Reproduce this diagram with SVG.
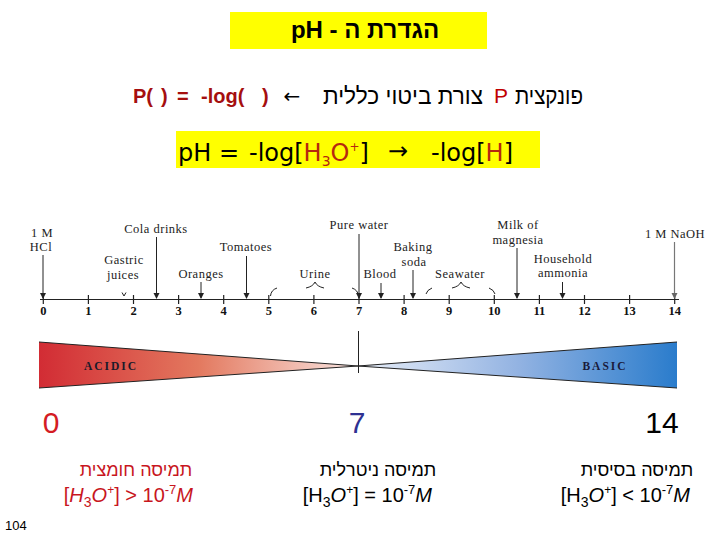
<svg xmlns="http://www.w3.org/2000/svg" width="720" height="540" viewBox="0 0 720 540">
<defs>
<marker id="ah" markerWidth="6" markerHeight="7" refX="5" refY="3" orient="auto" markerUnits="userSpaceOnUse">
<path d="M0,0 L6,3 L0,6 z" fill="#222"/>
</marker>
<marker id="ahg" markerWidth="6" markerHeight="7" refX="5" refY="3" orient="auto" markerUnits="userSpaceOnUse">
<path d="M0,0 L6,3 L0,6 z" fill="#666"/>
</marker>
<linearGradient id="gAcid" x1="39" y1="0" x2="358" y2="0" gradientUnits="userSpaceOnUse">
<stop offset="0" stop-color="#d22c34"/>
<stop offset="0.5" stop-color="#e3795f"/>
<stop offset="1" stop-color="#f9e6e2"/>
</linearGradient>
<linearGradient id="gBase" x1="358" y1="0" x2="677" y2="0" gradientUnits="userSpaceOnUse">
<stop offset="0" stop-color="#e8eef8"/>
<stop offset="0.5" stop-color="#93b3e2"/>
<stop offset="1" stop-color="#2a7ccc"/>
</linearGradient>
</defs>
<style>
.lbl{font-family:"Liberation Serif",serif;font-size:12.5px;fill:#222;text-anchor:middle;letter-spacing:0.5px}
.num{font-family:"Liberation Serif",serif;font-size:12.5px;font-weight:bold;fill:#111;text-anchor:middle}
.arr{stroke:#222;stroke-width:1;fill:none}
.heb{font-family:"Liberation Sans",sans-serif;direction:rtl;unicode-bidi:embed}
.big{font-family:"Liberation Sans",sans-serif;font-size:30px;text-anchor:middle}
.expr{font-family:"Liberation Sans",sans-serif;font-size:20px;text-anchor:end}
.eq{font-family:"DejaVu Sans",sans-serif;font-size:24px;fill:#000}
.red{fill:#b5280f}
.brace{stroke:#222;stroke-width:1;fill:none}
</style>
<rect width="720" height="540" fill="#fff"/>

<g id="title">
<rect x="230" y="12" width="257" height="37" fill="#ffff00"/>
<text class="heb" x="365" y="38" font-size="24" font-weight="bold" text-anchor="middle" fill="#000">הגדרת ה - pH</text>
</g>

<g id="general-form">
<g font-family="Liberation Sans, sans-serif" font-size="20" font-weight="bold" fill="#a50f0f">
<text x="133" y="103">P(</text>
<text x="161" y="103">)</text>
<text x="177" y="103">=</text>
<text x="201" y="103">-log(</text>
<text x="262" y="103">)</text>
</g>
<text x="292" y="103" font-family="DejaVu Sans, sans-serif" font-size="20" text-anchor="middle" fill="#000">←</text>
<text class="heb" x="483" y="104" font-size="23" text-anchor="start" textLength="160" lengthAdjust="spacingAndGlyphs" fill="#000">צורת ביטוי כללית</text>
<text x="501" y="103" font-family="Liberation Sans, sans-serif" font-size="21" text-anchor="middle" fill="#c00000">P</text>
<text class="heb" x="583" y="104" font-size="23" text-anchor="start" textLength="68" lengthAdjust="spacingAndGlyphs" fill="#000">פונקצית</text>
</g>

<g id="ph-definition">
<rect x="176" y="131" width="364" height="37" fill="#ffff00"/>
<text class="eq" x="178" y="161" fill="#e35a12">pH</text>
<text class="eq" x="229" y="161" font-size="20" text-anchor="middle">=</text>
<text class="eq" x="249" y="161">-log[<tspan class="red">H</tspan><tspan class="red" font-size="14" dy="5">3</tspan><tspan class="red" dy="-5">O</tspan><tspan class="red" font-size="12" dy="-10">+</tspan><tspan dy="10">]</tspan></text>
<text class="eq" x="398" y="159" text-anchor="middle">→</text>
<text class="eq" x="431" y="161">-log[<tspan class="red">H</tspan>]</text>
</g>

<g id="scale">
<line x1="40" y1="299.5" x2="679" y2="299.5" stroke="#222" stroke-width="1"/>
<g stroke="#222" stroke-width="1.2">
<line x1="43.3" y1="295" x2="43.3" y2="304"/>
<line x1="88.4" y1="295" x2="88.4" y2="304"/>
<line x1="133.5" y1="295" x2="133.5" y2="304"/>
<line x1="178.6" y1="295" x2="178.6" y2="304"/>
<line x1="223.7" y1="295" x2="223.7" y2="304"/>
<line x1="268.8" y1="295" x2="268.8" y2="304"/>
<line x1="313.9" y1="295" x2="313.9" y2="304"/>
<line x1="359" y1="295" x2="359" y2="304"/>
<line x1="404.1" y1="295" x2="404.1" y2="304"/>
<line x1="449.2" y1="295" x2="449.2" y2="304"/>
<line x1="494.3" y1="295" x2="494.3" y2="304"/>
<line x1="539.4" y1="295" x2="539.4" y2="304"/>
<line x1="584.5" y1="295" x2="584.5" y2="304"/>
<line x1="629.6" y1="295" x2="629.6" y2="304"/>
<line x1="674.7" y1="295" x2="674.7" y2="304"/>
</g>
<text class="num" x="43.3" y="315">0</text>
<text class="num" x="88.4" y="315">1</text>
<text class="num" x="133.5" y="315">2</text>
<text class="num" x="178.6" y="315">3</text>
<text class="num" x="223.7" y="315">4</text>
<text class="num" x="268.8" y="315">5</text>
<text class="num" x="313.9" y="315">6</text>
<text class="num" x="359" y="315">7</text>
<text class="num" x="404.1" y="315">8</text>
<text class="num" x="449.2" y="315">9</text>
<text class="num" x="494.3" y="315">10</text>
<text class="num" x="539.4" y="315">11</text>
<text class="num" x="584.5" y="315">12</text>
<text class="num" x="629.6" y="315">13</text>
<text class="num" x="674.7" y="315">14</text>
</g>

<g id="hcl"><text class="lbl" x="42" y="237">1 M</text><text class="lbl" x="41" y="251">HCl</text></g>
<g id="cola"><text class="lbl" x="156" y="233">Cola drinks</text></g>
<g id="gastric"><text class="lbl" x="124" y="264">Gastric</text><text class="lbl" x="123" y="278.5">juices</text></g>
<g id="tomatoes"><text class="lbl" x="246" y="251">Tomatoes</text></g>
<g id="oranges"><text class="lbl" x="201" y="278">Oranges</text></g>
<g id="urine"><text class="lbl" x="315" y="278">Urine</text></g>
<g id="pure-water"><text class="lbl" x="359" y="229">Pure water</text></g>
<g id="blood"><text class="lbl" x="380" y="278">Blood</text></g>
<g id="baking-soda"><text class="lbl" x="413" y="251">Baking</text><text class="lbl" x="414" y="265.5">soda</text></g>
<g id="seawater"><text class="lbl" x="460" y="278">Seawater</text></g>
<g id="milk-of-magnesia"><text class="lbl" x="518" y="229">Milk of</text><text class="lbl" x="518" y="243.5">magnesia</text></g>
<g id="ammonia"><text class="lbl" x="563" y="262.5">Household</text><text class="lbl" x="563" y="277">ammonia</text></g>
<g id="naoh"><text class="lbl" x="675" y="238">1 M NaOH</text></g>

<g id="connectors">
<line class="arr" x1="43" y1="255" x2="43" y2="298" marker-end="url(#ah)"/>
<line class="arr" x1="156.5" y1="237" x2="156.5" y2="298" marker-end="url(#ah)"/>
<line class="arr" x1="246.5" y1="256" x2="246.5" y2="298" marker-end="url(#ah)"/>
<line class="arr" x1="201" y1="282" x2="201" y2="298" marker-end="url(#ah)"/>
<line class="arr" x1="359" y1="234" x2="359" y2="298" marker-end="url(#ah)"/>
<line class="arr" x1="381" y1="283" x2="381" y2="298" marker-end="url(#ah)"/>
<line class="arr" x1="413" y1="270" x2="413" y2="298" marker-end="url(#ah)"/>
<line class="arr" x1="517" y1="248" x2="517" y2="298" marker-end="url(#ah)"/>
<line class="arr" x1="562.5" y1="282" x2="562.5" y2="298" marker-end="url(#ah)"/>
<line x1="674.5" y1="242" x2="674.5" y2="298" stroke="#777" stroke-width="1.2" marker-end="url(#ahg)"/>
<path class="brace" d="M122,292.5 L124,296 L126,292.5"/>
<path class="brace" d="M277,288 Q271,290 270.5,296"/>
<path class="brace" d="M306,288 Q313,286.5 315,282 Q317,286.5 324,288"/>
<path class="brace" d="M352,288 Q358,290 358.5,296"/>
<path class="brace" d="M432,288 Q427,290 426,294"/>
<path class="brace" d="M452,288 Q459,286.5 461,282 Q463,286.5 470,288"/>
<path class="brace" d="M489,288 Q494,290 495,294"/>
</g>

<g id="wedge">
<polygon points="39,342 358,366 39,388" fill="url(#gAcid)"/>
<polygon points="677,342 358,366 677,388" fill="url(#gBase)"/>
<polyline points="39,342 358,366 677,342" fill="none" stroke="#222" stroke-width="1"/>
<polyline points="39,388 358,366 677,388" fill="none" stroke="#222" stroke-width="1"/>
<line x1="358.5" y1="331" x2="358.5" y2="373" stroke="#222" stroke-width="1"/>
<text x="111" y="370" font-family="Liberation Serif, serif" font-size="11.5" font-weight="bold" letter-spacing="2" text-anchor="middle" fill="#1a1a2a">ACIDIC</text>
<text x="605" y="370" font-family="Liberation Serif, serif" font-size="11.5" font-weight="bold" letter-spacing="2" text-anchor="middle" fill="#1a1a3a">BASIC</text>
</g>

<g id="acidic">
<text class="big" x="51" y="433" fill="#d41c24">0</text>
<text class="heb" x="136" y="476" font-size="18" text-anchor="middle" fill="#c8161e">תמיסה חומצית</text>
<text class="expr" x="193" y="502" fill="#c8161e">[<tspan font-style="italic">H</tspan><tspan font-size="14" dy="5">3</tspan><tspan dy="-5" font-style="italic">O</tspan><tspan font-size="12" dy="-8">+</tspan><tspan dy="8">] &gt; 10</tspan><tspan font-size="13" dy="-8">-7</tspan><tspan dy="8" font-style="italic">M</tspan></text>
</g>

<g id="neutral">
<text class="big" x="357" y="433" fill="#2e3192">7</text>
<text class="heb" x="378" y="476" font-size="18" text-anchor="middle" fill="#000">תמיסה ניטרלית</text>
<text class="expr" x="432" y="502" fill="#000">[H<tspan font-size="14" dy="5">3</tspan><tspan dy="-5" font-style="italic">O</tspan><tspan font-size="12" dy="-8">+</tspan><tspan dy="8">] = 10</tspan><tspan font-size="13" dy="-8">-7</tspan><tspan dy="8" font-style="italic">M</tspan></text>
</g>

<g id="basic">
<text class="big" x="662" y="433" fill="#000">14</text>
<text class="heb" x="637" y="476" font-size="18" text-anchor="middle" fill="#000">תמיסה בסיסית</text>
<text class="expr" x="690" y="502" fill="#000">[H<tspan font-size="14" dy="5">3</tspan><tspan dy="-5" font-style="italic">O</tspan><tspan font-size="12" dy="-8">+</tspan><tspan dy="8">] &lt; 10</tspan><tspan font-size="13" dy="-8">-7</tspan><tspan dy="8" font-style="italic">M</tspan></text>
</g>

<g id="page-number">
<text x="5" y="530" font-family="Liberation Sans, sans-serif" font-size="13" fill="#000">104</text>
</g>
</svg>
